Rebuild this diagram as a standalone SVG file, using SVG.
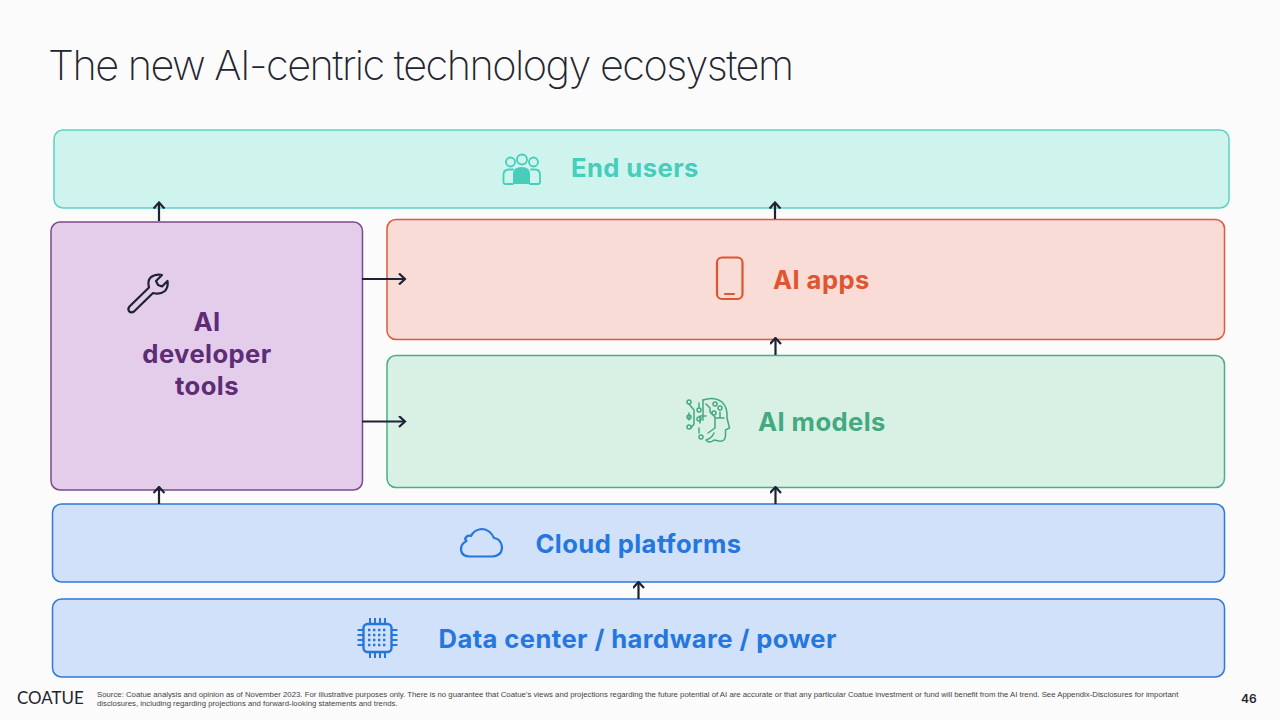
<svg xmlns="http://www.w3.org/2000/svg" width="1280" height="720" viewBox="0 0 1280 720">
<style>
text{font-family:"Inter","Liberation Sans",sans-serif}
.lbl{font-size:25.6px;font-weight:700;letter-spacing:0.42px}
.box{stroke-width:1.5}
.con{fill:none;stroke:#1e2233;stroke-width:2.2}
.ic{fill:none;stroke-width:2.2;stroke-linecap:round;stroke-linejoin:round}
.foot{font-size:7.79px;fill:#444;font-family:"Liberation Sans",sans-serif}
</style>
<defs>
<marker id="arr" viewBox="0 0 12 12" refX="10.500" refY="6" markerWidth="12" markerHeight="12" markerUnits="userSpaceOnUse" orient="auto"><path d="M4.500 0.500L10.500 6L4.500 11.500" fill="none" stroke="#1e2233" stroke-width="2.200"/></marker>
</defs>
<rect width="1280" height="720" fill="#fbfbfb"/>
<text id="title" x="48" y="80" font-size="41.5" font-weight="200" fill="#23252e" letter-spacing="-1.550">The new AI-centric technology ecosystem</text>
<g id="end-users">
<rect class="box" x="54" y="130" width="1175" height="78" rx="9" fill="#cff4ee" stroke="#5fd0c4"/>
<g class="ic" stroke="#46cdbb" style="stroke-width:1.800"><circle cx="510.500" cy="162" r="4.500"/><circle cx="522" cy="159.500" r="5"/><circle cx="533.500" cy="162" r="4.500"/><path d="M513 184H505.500Q503.500 184 503.500 182V175Q503.500 169.500 509 169.500H513"/><path d="M531 169.500H535Q540 169.500 540 175V182Q540 184 538 184H530"/></g>
<path d="M513 184V174Q513 167 521.500 167Q530 167 530 174V184Z" fill="#46cdbb"/>
<text class="lbl" x="571" y="176.500" fill="#46cdbb">End users</text>
</g>
<g id="ai-tools">
<rect class="box" x="51" y="222" width="311.500" height="268" rx="9" fill="#e3cdea" stroke="#7a4a8a"/>
<path class="ic" stroke="#1e2233" d="M129.500 306.500L149 287.500Q147 281 151 277Q156 273.500 162 275L156 281L158 285L162 286.500L167.500 281Q168.500 287 165 291Q160 295 153 293L134 311.500Q131 313.500 129 311Q127.500 309 129.500 306.500Z"/>
<g class="lbl" fill="#5e2b76" text-anchor="middle"><text x="207" y="330.500">AI</text><text x="207" y="362.500">developer</text><text x="207" y="394.500">tools</text></g>
</g>
<g id="ai-apps">
<rect class="box" x="387" y="219.500" width="837.500" height="120" rx="9" fill="#f9dcd6" stroke="#e0593a"/>
<g class="ic" stroke="#df5530"><rect x="717" y="257.500" width="25.500" height="41.500" rx="5"/><path d="M725 294H734"/></g>
<text class="lbl" x="773" y="288.500" fill="#df5530">AI apps</text>
</g>
<g id="ai-models">
<rect class="box" x="387" y="355.500" width="837.500" height="132" rx="9" fill="#d9f0e5" stroke="#4cae87"/>
<g fill="none" stroke="#43a981" stroke-width="1.500" stroke-linecap="round" stroke-linejoin="round">
<path d="M703 400Q714 396 722 402Q728 408 727 418L729.500 428L725.500 430V436Q725 442 719 441L714 440Q709 444 706 440Q712 438 714 433"/>
<path d="M703 400V420M706 404L710 408V412L715 417V428L708 433M715 418H724M720 418V412M706 416H700V423M699 408V403M689 404L694 410V424L691 428M689 413V420M699 428V433"/>
<circle cx="689" cy="402" r="2"/><circle cx="699" cy="410" r="2"/><circle cx="689" cy="417" r="2"/><circle cx="689" cy="427" r="2"/><circle cx="699" cy="419" r="2"/><circle cx="701" cy="437" r="2"/><circle cx="715" cy="404" r="2"/><circle cx="720" cy="408" r="2"/><circle cx="714" cy="413" r="2"/>
</g>
<text class="lbl" x="758" y="430.500" fill="#43a981">AI models</text>
</g>
<g id="cloud-platforms">
<rect class="box" x="52.500" y="504" width="1172" height="78" rx="9" fill="#d0e1f9" stroke="#2f78d8"/>
<path class="ic" stroke="#2577de" d="M470 556.500H492Q502 556 502 547Q501 539 494 538Q490 529 481 529Q474 530 471 536Q467 534.500 465 539L466.500 541Q460.500 544 461 550Q462 556.500 470 556.500Z"/>
<text class="lbl" x="535.500" y="552.500" fill="#2577de">Cloud platforms</text>
</g>
<g id="data-center">
<rect class="box" x="52.500" y="599" width="1172" height="78" rx="9" fill="#d0e1f9" stroke="#2f78d8"/>
<rect x="363.500" y="624" width="28" height="28" rx="4" fill="none" stroke="#2577de" stroke-width="2.400"/>
<path fill="none" stroke="#2577de" stroke-width="2" d="M370 618V624M375 618V624M380 618V624M385 618V624M370 652V658M375 652V658M380 652V658M385 652V658M357.500 630H363.500M357.500 635H363.500M357.500 640H363.500M357.500 645H363.500M391.500 630H397.500M391.500 635H397.500M391.500 640H397.500M391.500 645H397.500"/>
<path fill="none" stroke="#2577de" stroke-width="2.400" stroke-dasharray="2.400 2.600" d="M368 630H388M368 635H388M368 640H388M368 645H388"/>
<text class="lbl" x="438.500" y="647.500" fill="#2577de">Data center / hardware / power</text>
</g>
<g id="connectors">
<path class="con" marker-end="url(#arr)" d="M159 221V202.500"/>
<path class="con" marker-end="url(#arr)" d="M775 219V202.500"/>
<path class="con" marker-end="url(#arr)" d="M775.500 355V338"/>
<path class="con" marker-end="url(#arr)" d="M159 504V487"/>
<path class="con" marker-end="url(#arr)" d="M775.500 504V487"/>
<path class="con" marker-end="url(#arr)" d="M638.500 599V582"/>
<path class="con" marker-end="url(#arr)" d="M362 279H405"/>
<path class="con" marker-end="url(#arr)" d="M362 421.500H405"/>
</g>
<text id="logo" x="17" y="704" font-size="16.900" fill="#23252e" style="font-family:'Lato','Liberation Sans',sans-serif">COATUE</text>
<text class="foot" x="97" y="696.800">Source: Coatue analysis and opinion as of November 2023. For illustrative purposes only. There is no guarantee that Coatue’s views and projections regarding the future potential of AI are accurate or that any particular Coatue investment or fund will benefit from the AI trend. See Appendix-Disclosures for important</text>
<text class="foot" x="97" y="705.500">disclosures, including regarding projections and forward-looking statements and trends.</text>
<text id="page" x="1241" y="703" font-size="12" font-weight="600" fill="#23252e">46</text>
</svg>
